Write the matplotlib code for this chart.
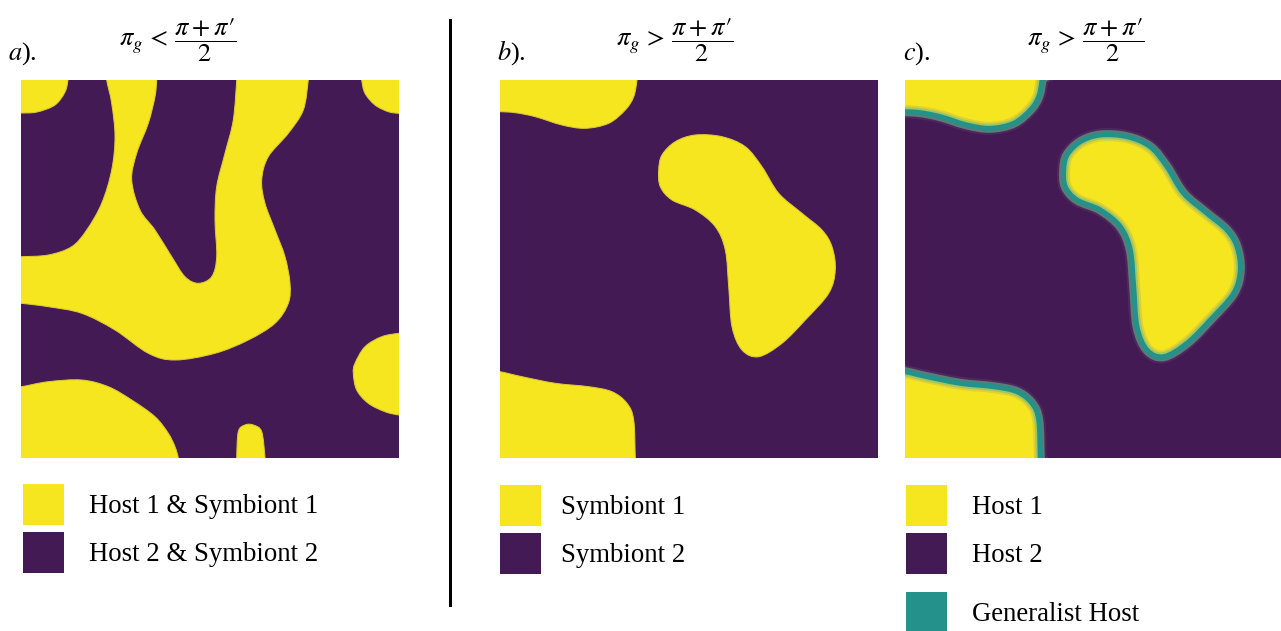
import numpy as np
import matplotlib
matplotlib.use("Agg")
import matplotlib.pyplot as plt
from matplotlib.path import Path
from matplotlib.patches import PathPatch, Rectangle
from matplotlib.lines import Line2D

plt.rcParams['font.family'] = 'serif'
plt.rcParams['font.serif'] = ['Liberation Serif', 'DejaVu Serif']
plt.rcParams['mathtext.fontset'] = 'stix'

W, H = 1281, 631
SIDE = 378  # panel size in px, outlines below are in panel px (y down)

YELLOW = '#f5e61f'
PURPLE = '#441a55'
TEAL = '#24918b'

# panel a: yellow domains (host 1 & symbiont 1)
a_corner_tl = [(-10, -10), (48, -10), (47, 0), (44, 12), (34, 25), (16, 32),
               (0, 33), (-10, 33)]
a_main = [(86, -10), (85.7, 0), (90.7, 23.3), (94, 56.7), (90.7, 90),
          (80.7, 123.3), (65.7, 150), (50.7, 166.7), (27.3, 175), (0, 176.7),
          (-10, 177), (-10, 223), (0, 223.3), (27.3, 226.7), (60.7, 233.3),
          (94, 250), (127.3, 273.3), (154, 280), (194, 273.3), (227.3, 260),
          (254, 243.3), (267.3, 223.3), (269, 203.3), (264, 176.7),
          (254, 150), (244, 123.3), (240.7, 100), (247.3, 76.7),
          (267.3, 53.3), (282.3, 30), (287.3, 0), (288, -10), (216, -10),
          (215.7, 0), (212.3, 40), (204, 73.3), (195.7, 106.7), (194, 140),
          (195.7, 176.7), (190.7, 196.7), (177.3, 203.3), (164, 196.7),
          (150.7, 176.7), (134, 150), (119, 130), (110.7, 100),
          (115.7, 73.3), (127.3, 43.3), (134, 16.7), (135.7, 0), (136, -10)]
a_corner_tr = [(340, -10), (340.7, 0), (344, 13.3), (354, 25), (367.3, 31.7),
               (378, 33.3), (388, 33), (388, -10)]
a_right = [(388, 253), (378, 253.3), (360.7, 256.7), (344, 266.7),
           (334, 283.3), (332.3, 293.3), (335.7, 310), (347.3, 323.3),
           (364, 331.7), (378, 335), (388, 335)]
a_bottom_left = [(-10, 306), (0, 306.7), (27.3, 301.7), (60.7, 300),
                 (87.3, 306.7), (110.7, 320), (134, 336.7), (147.3, 353.3),
                 (154, 366.7), (157.3, 378), (158, 388), (-10, 388)]
a_bottom_small = [(215.7, 378), (217.3, 351.7), (224, 345), (232.3, 345),
                  (240.7, 351.7), (244, 378), (244, 388), (216, 388)]

# panels b and c: yellow domains
b_corner_tl = [(137, -10), (137, 0), (133.7, 16.7), (125.3, 30), (108.7, 43.3),
               (85.3, 48.3), (62, 45), (35.3, 36.7), (15.3, 32.7), (0, 31.7),
               (-10, 31.7), (-10, -10)]
b_center = [(158.7, 90), (162, 75), (175.3, 61.7), (195.3, 55), (222, 56.7),
            (245.3, 66.7), (262, 86.7), (278.7, 113.3), (302, 133.3),
            (322, 150), (332, 166.7), (335.3, 190), (328.7, 213.3),
            (305.3, 240), (282, 263.3), (258.7, 276.7), (242, 270),
            (232, 246.7), (228.7, 206.7), (225.3, 170), (215.3, 146.7),
            (195.3, 130), (172, 120), (160.3, 106.7)]
b_bottom_left = [(-10, 291.7), (0, 291.7), (22, 296.7), (55.3, 303.3),
                 (88.7, 306.7), (112, 311.7), (127, 323.3), (133.7, 340),
                 (135.3, 378), (136, 388), (-10, 388)]

panel_a = [a_corner_tl, a_main, a_corner_tr, a_right, a_bottom_left, a_bottom_small]
panel_b = [b_corner_tl, b_center, b_bottom_left]

labels_a = ['Host 1 & Symbiont 1', 'Host 2 & Symbiont 2']
labels_b = ['Symbiont 1', 'Symbiont 2']
labels_c = ['Host 1', 'Host 2', 'Generalist Host']


def smooth_path(pts):
    # closed Catmull-Rom curve through the outline points
    p = np.asarray(pts, float)
    n = len(p)
    verts = [p[0]]
    codes = [Path.MOVETO]
    for i in range(n):
        p0, p1, p2, p3 = p[i - 1], p[i], p[(i + 1) % n], p[(i + 2) % n]
        verts += [p1 + (p2 - p0) / 6, p2 - (p3 - p1) / 6, p2]
        codes += [Path.CURVE4] * 3
    verts.append(p[0])
    codes.append(Path.CLOSEPOLY)
    return Path(verts, codes)


def px2pt(v):
    return v * 72 / 100


def make_panel(x0, y0):
    ax = fig.add_axes([x0 / W, 1 - (y0 + SIDE) / H, SIDE / W, SIDE / H])
    ax.set_xlim(0, SIDE)
    ax.set_ylim(SIDE, 0)
    ax.set_facecolor(PURPLE)
    ax.set_xticks([])
    ax.set_yticks([])
    for s in ax.spines.values():
        s.set_visible(False)
    return ax


def legend(x, ys, labels, colors, tx):
    for y, lab, col in zip(ys, labels, colors):
        fig.add_artist(Rectangle((x / W, 1 - (y + 41) / H), 41 / W, 41 / H,
                                 transform=fig.transFigure, facecolor=col,
                                 edgecolor='none'))
        fig.text(tx / W, 1 - (y + 29) / H, lab, fontsize=19.3, va='baseline')


fig = plt.figure(figsize=(W / 100, H / 100), dpi=100)

ax_a = make_panel(21, 80)
for blob in panel_a:
    ax_a.add_patch(PathPatch(smooth_path(blob), facecolor=YELLOW,
                             edgecolor='#dccb34', lw=px2pt(1.0)))

ax_b = make_panel(500, 80)
for blob in panel_b:
    ax_b.add_patch(PathPatch(smooth_path(blob), facecolor=YELLOW,
                             edgecolor='#dccb34', lw=px2pt(1.0)))

ax_c = make_panel(905, 80)
for blob in panel_b:
    pth = smooth_path(blob)
    ax_c.add_patch(PathPatch(pth, facecolor=YELLOW, edgecolor='none'))
    ax_c.add_patch(PathPatch(pth, facecolor='none', edgecolor='#7d6e96',
                             lw=px2pt(13), alpha=0.18))
    ax_c.add_patch(PathPatch(pth, facecolor='none', edgecolor='#6cbf86',
                             lw=px2pt(9), alpha=0.55))
    ax_c.add_patch(PathPatch(pth, facecolor='none', edgecolor=TEAL,
                             lw=px2pt(5)))

# divider
fig.add_artist(Line2D([450 / W, 450 / W], [1 - 20 / H, 1 - 605 / H],
                      transform=fig.transFigure, color='black', lw=px2pt(3)))

# panel letters and titles
fig.text(8 / W, 1 - 60 / H, r'$a$).', fontsize=19, va='baseline')
fig.text(497 / W, 1 - 60 / H, r'$b$).', fontsize=19, va='baseline')
fig.text(903 / W, 1 - 60 / H, r'$c$).', fontsize=19, va='baseline')
title_lt = r"$\pi_g \,<\, \dfrac{\pi + \pi\prime}{2}$"
title_gt = r"$\pi_g \,>\, \dfrac{\pi + \pi\prime}{2}$"
fig.text(119 / W, 1 - 40 / H, title_lt, fontsize=19, va='center')
fig.text(616 / W, 1 - 40 / H, title_gt, fontsize=19, va='center')
fig.text(1027 / W, 1 - 40 / H, title_gt, fontsize=19, va='center')

legend(23, [484, 532], labels_a, [YELLOW, PURPLE], 89)
legend(500, [485, 533], labels_b, [YELLOW, PURPLE], 561)
legend(906, [485, 533, 592], labels_c, [YELLOW, PURPLE, TEAL], 972)

fig.savefig('out.png', dpi=100)
